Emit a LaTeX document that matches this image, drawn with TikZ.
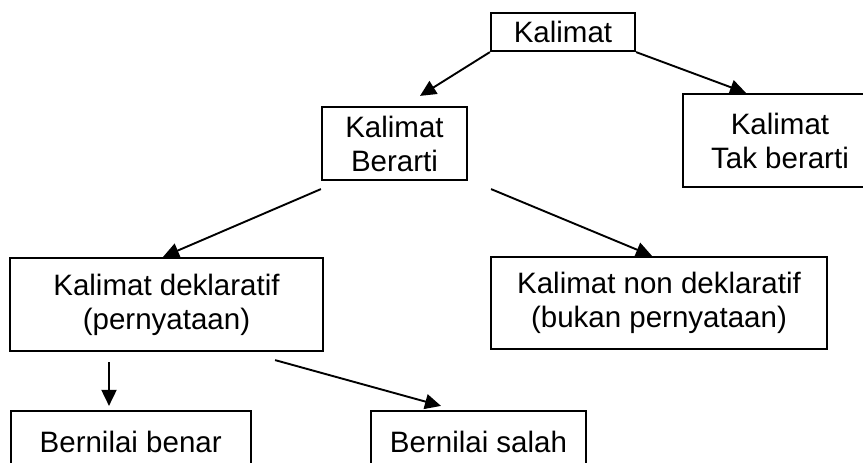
\documentclass[tikz,border=0pt]{standalone}
\usepackage{fontspec}
\setmainfont{Liberation Sans}
\usetikzlibrary{arrows.meta,shapes}

\begin{document}
\begin{tikzpicture}[->,>={Triangle[length=16pt,width=15pt]},x=1pt,y=-1pt,
        line width=1.9pt,
        box/.style={rectangle,draw,line width=2.2pt,inner sep=0pt,align=center,
          font=\fontsize{29.5}{34}\selectfont}]

  \clip (0,0) rectangle (863,463);

  \node[box,minimum width=144pt,minimum height=38pt] (K) at (563,32) {Kalimat};
  \node[box,minimum width=145pt,minimum height=73pt] (KB) at (394.5,143.5) {Kalimat\\Berarti};
  \node[box,minimum width=194pt,minimum height=93pt] (KTB) at (780,140.5) {Kalimat\\Tak berarti};
  \node[box,minimum width=313pt,minimum height=93pt] (KD) at (166.5,304.5) {Kalimat deklaratif\\(pernyataan)};
  \node[box,minimum width=336pt,minimum height=92pt] (KND) at (659,303) {Kalimat non deklaratif\\(bukan pernyataan)};
  \node[box,minimum width=240pt,minimum height=61pt] (BB) at (130.7,441.5) {Bernilai benar};
  \node[box,minimum width=215pt,minimum height=61pt] (BS) at (478.5,441.5) {Bernilai salah};

  \path (K.south west) edge ([xshift=25.5pt,yshift=10pt]KB.north)
        (K.south east) edge ([xshift=-34pt]KTB.north)
        ([yshift=-8pt]KB.south west) edge ([xshift=-3.5pt]KD.north)
        ([xshift=23pt,yshift=-8pt]KB.south east) edge ([xshift=-7pt]KND.north)
        ([xshift=-57.5pt,yshift=-10pt]KD.south) edge ([xshift=-21.7pt,yshift=4pt]BB.north)
        ([xshift=-49pt,yshift=-8pt]KD.south east) edge ([xshift=-37.5pt,yshift=4pt]BS.north);

\end{tikzpicture}
\end{document}
